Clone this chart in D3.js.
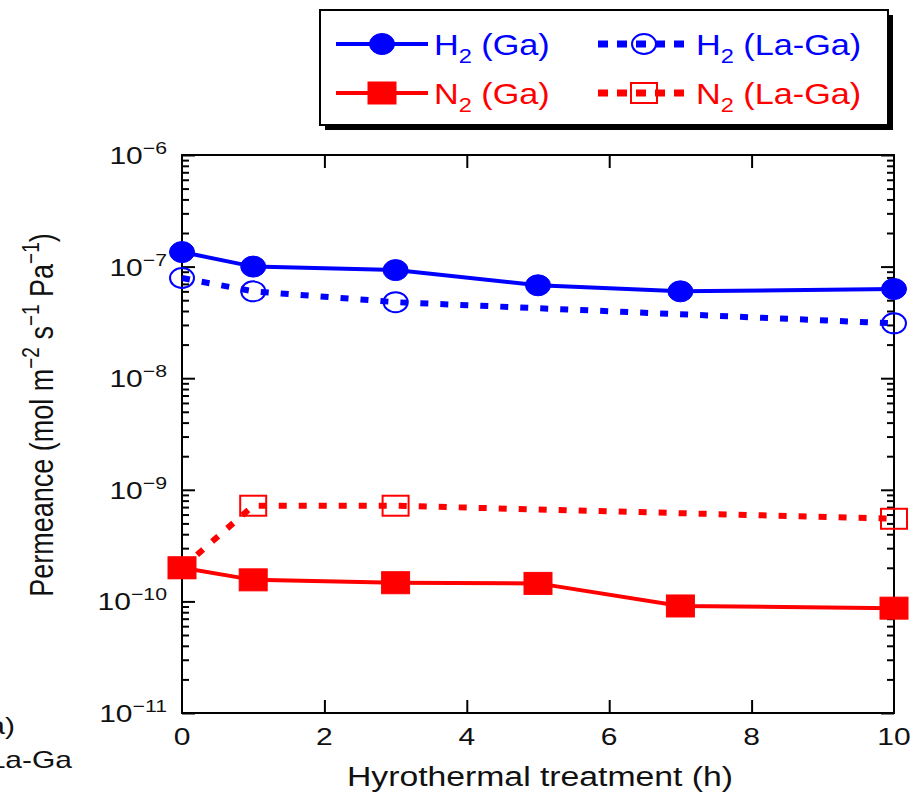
<!DOCTYPE html>
<html>
<head>
  <meta charset="utf-8">
  <title>Permeance vs hydrothermal treatment</title>
  <style>
    body { margin: 0; background: #fff; }
    text { font-family: "Liberation Sans", Arial, sans-serif; }
  </style>
</head>
<body>
  <script src="https://cdn.jsdelivr.net/npm/d3@7"></script>
  <script>
    // hours of hydrothermal treatment
    const hoursGa = [0, 1, 3, 5, 7, 10];
    const hoursLaGa = [0, 1, 3, 10];

    // permeance, mol m-2 s-1 Pa-1
    const h2Ga = [1.35e-7, 1.0e-7, 9.3e-8, 6.8e-8, 6.0e-8, 6.3e-8];
    const h2LaGa = [7.9e-8, 6.0e-8, 4.8e-8, 3.1e-8];
    const n2Ga = [2.0e-10, 1.56e-10, 1.47e-10, 1.45e-10, 9.1e-11, 8.7e-11];
    const n2LaGa = [2.0e-10, 7.2e-10, 7.2e-10, 5.5e-10];

    const xTicks = [0, 2, 4, 6, 8, 10];
    const decades = [-11, -10, -9, -8, -7, -6];

    const width = 917;
    const height = 793;
    const sx = 1.25; // the figure is stretched sideways

    const plotL = 182, plotR = 894, plotT = 155, plotB = 713;

    const svg = d3.select('body')
      .append('svg')
      .attr('width', width)
      .attr('height', height);

    const x = d3.scaleLinear().domain([0, 10]).range([plotL, plotR]);
    const y = d3.scaleLog().domain([1e-11, 1e-6]).range([plotB, plotT]);

    const major = decades.map(d => Math.pow(10, d));
    const minor = [];
    decades.slice(0, -1).forEach(d => {
      for (let m = 2; m <= 9; m++) minor.push(m * Math.pow(10, d));
    });

    // ticks, all pointing inward
    const tickAxis = (gen, values, size, tx, ty) => {
      const g = svg.append('g')
        .attr('transform', `translate(${tx},${ty})`)
        .call(gen.tickValues(values).tickSize(size).tickFormat(''));
      g.select('.domain').remove();
      g.selectAll('line').attr('stroke', '#000').attr('stroke-width', 2);
    };
    tickAxis(d3.axisLeft(y), major, -13, plotL, 0);
    tickAxis(d3.axisLeft(y), minor, -7, plotL, 0);
    tickAxis(d3.axisRight(y), major, -13, plotR, 0);
    tickAxis(d3.axisRight(y), minor, -7, plotR, 0);
    tickAxis(d3.axisBottom(x), xTicks.slice(1, -1), -13, 0, plotB);
    tickAxis(d3.axisTop(x), xTicks.slice(1, -1), -13, 0, plotT);

    svg.append('rect')
      .attr('x', plotL).attr('y', plotT)
      .attr('width', plotR - plotL).attr('height', plotB - plotT)
      .attr('fill', 'none').attr('stroke', '#000').attr('stroke-width', 2);

    // y tick labels 10^n
    decades.forEach(d => {
      const t = svg.append('text')
        .attr('transform', `translate(167,${y(Math.pow(10, d)) + 9}) scale(${sx},1)`)
        .attr('text-anchor', 'end')
        .attr('font-size', 24)
        .attr('fill', '#111');
      t.append('tspan').text('10');
      t.append('tspan').attr('font-size', 17).attr('dy', -10).text('\u2212' + Math.abs(d));
    });

    // x tick labels
    svg.selectAll('.xlab')
      .data(xTicks)
      .join('text')
      .attr('transform', d => `translate(${x(d)},745) scale(${sx},1)`)
      .attr('text-anchor', 'middle')
      .attr('font-size', 24)
      .attr('fill', '#111')
      .text(d => d);

    svg.append('text')
      .attr('transform', `translate(540,786) scale(${sx},1)`)
      .attr('text-anchor', 'middle')
      .attr('font-size', 27)
      .attr('fill', '#111')
      .text('Hyrothermal treatment (h)');

    const yt = svg.append('text')
      .attr('transform', `translate(53,415) scale(${sx},1) rotate(-90)`)
      .attr('text-anchor', 'middle')
      .attr('font-size', 27)
      .attr('fill', '#111');
    yt.append('tspan').text('Permeance (mol m');
    yt.append('tspan').attr('font-size', 19).attr('dy', -11).text('\u22122');
    yt.append('tspan').attr('dy', 11).text(' s');
    yt.append('tspan').attr('font-size', 19).attr('dy', -11).text('\u22121');
    yt.append('tspan').attr('dy', 11).text(' Pa');
    yt.append('tspan').attr('font-size', 19).attr('dy', -11).text('\u22121');
    yt.append('tspan').attr('dy', 11).text(')');

    // leftover text from the neighbouring panel, cut by the left edge as in the source
    const ghost = (str, tx, ty) => svg.append('text')
      .attr('transform', `translate(${tx},${ty}) scale(${sx},1)`)
      .attr('text-anchor', 'end')
      .attr('font-size', 24)
      .attr('fill', '#111')
      .text(str);
    ghost('(Ga)', 15, 734);
    ghost('La-Ga', 72, 768);

    // series
    const series = [
      { name: 'H', xs: hoursGa, ys: h2Ga, color: '#0000ff', dotted: false, marker: 'circle', filled: true },
      { name: 'H', xs: hoursLaGa, ys: h2LaGa, color: '#0000ff', dotted: true, marker: 'circle', filled: false },
      { name: 'N', xs: hoursGa, ys: n2Ga, color: '#ff0000', dotted: false, marker: 'square', filled: true },
      { name: 'N', xs: hoursLaGa, ys: n2LaGa, color: '#ff0000', dotted: true, marker: 'square', filled: false }
    ];

    const drawMarker = (g, s, cx, cy) => {
      if (s.marker === 'circle') {
        g.append('ellipse')
          .attr('cx', cx).attr('cy', cy)
          .attr('rx', s.filled ? 12.5 : 12).attr('ry', s.filled ? 10.5 : 10)
          .attr('fill', s.filled ? s.color : 'none')
          .attr('stroke', s.color).attr('stroke-width', s.filled ? 1 : 2);
      } else {
        const w = s.filled ? 28 : 26, h = s.filled ? 22 : 20;
        g.append('rect')
          .attr('x', cx - w / 2).attr('y', cy - h / 2)
          .attr('width', w).attr('height', h)
          .attr('fill', s.filled ? s.color : 'none')
          .attr('stroke', s.color).attr('stroke-width', s.filled ? 1 : 2);
      }
    };

    const line = d3.line().x(d => x(d[0])).y(d => y(d[1]));

    // dotted series first so the solid ones sit on top
    [1, 3, 0, 2].forEach(i => {
      const s = series[i];
      const pts = s.xs.map((h, j) => [h, s.ys[j]]);
      const g = svg.append('g');
      g.append('path')
        .attr('d', line(pts))
        .attr('fill', 'none')
        .attr('stroke', s.color)
        .attr('stroke-width', s.dotted ? 6 : 4)
        .attr('stroke-dasharray', s.dotted ? '8,12' : null);
      pts.forEach(p => drawMarker(g, s, x(p[0]), y(p[1])));
    });

    // legend
    const leg = svg.append('g');
    leg.append('rect')
      .attr('x', 325).attr('y', 15).attr('width', 568).attr('height', 115)
      .attr('fill', '#000');
    leg.append('rect')
      .attr('x', 320).attr('y', 10).attr('width', 568).attr('height', 115)
      .attr('fill', '#fff').attr('stroke', '#000').attr('stroke-width', 2);

    const legPos = [
      { lx: 336, ly: 44 }, { lx: 598, ly: 44 },
      { lx: 336, ly: 93 }, { lx: 598, ly: 93 }
    ];
    const legLabel = ['(Ga)', '(La-Ga)', '(Ga)', '(La-Ga)'];
    series.forEach((s, i) => {
      const p = legPos[i];
      leg.append('line')
        .attr('x1', p.lx).attr('x2', p.lx + 92)
        .attr('y1', p.ly).attr('y2', p.ly)
        .attr('stroke', s.color)
        .attr('stroke-width', s.dotted ? 7 : 4)
        .attr('stroke-dasharray', s.dotted ? '10,9' : null);
      drawMarker(leg, s, p.lx + 46, p.ly);
      const t = leg.append('text')
        .attr('transform', `translate(${p.lx + 98},${p.ly + 11}) scale(1.18,1)`)
        .attr('font-size', 29)
        .attr('fill', s.color);
      t.append('tspan').text(s.name);
      t.append('tspan').attr('font-size', 20).attr('dy', 8).text('2');
      t.append('tspan').attr('dy', -8).text(' ' + legLabel[i]);
    });
  </script>
</body>
</html>
